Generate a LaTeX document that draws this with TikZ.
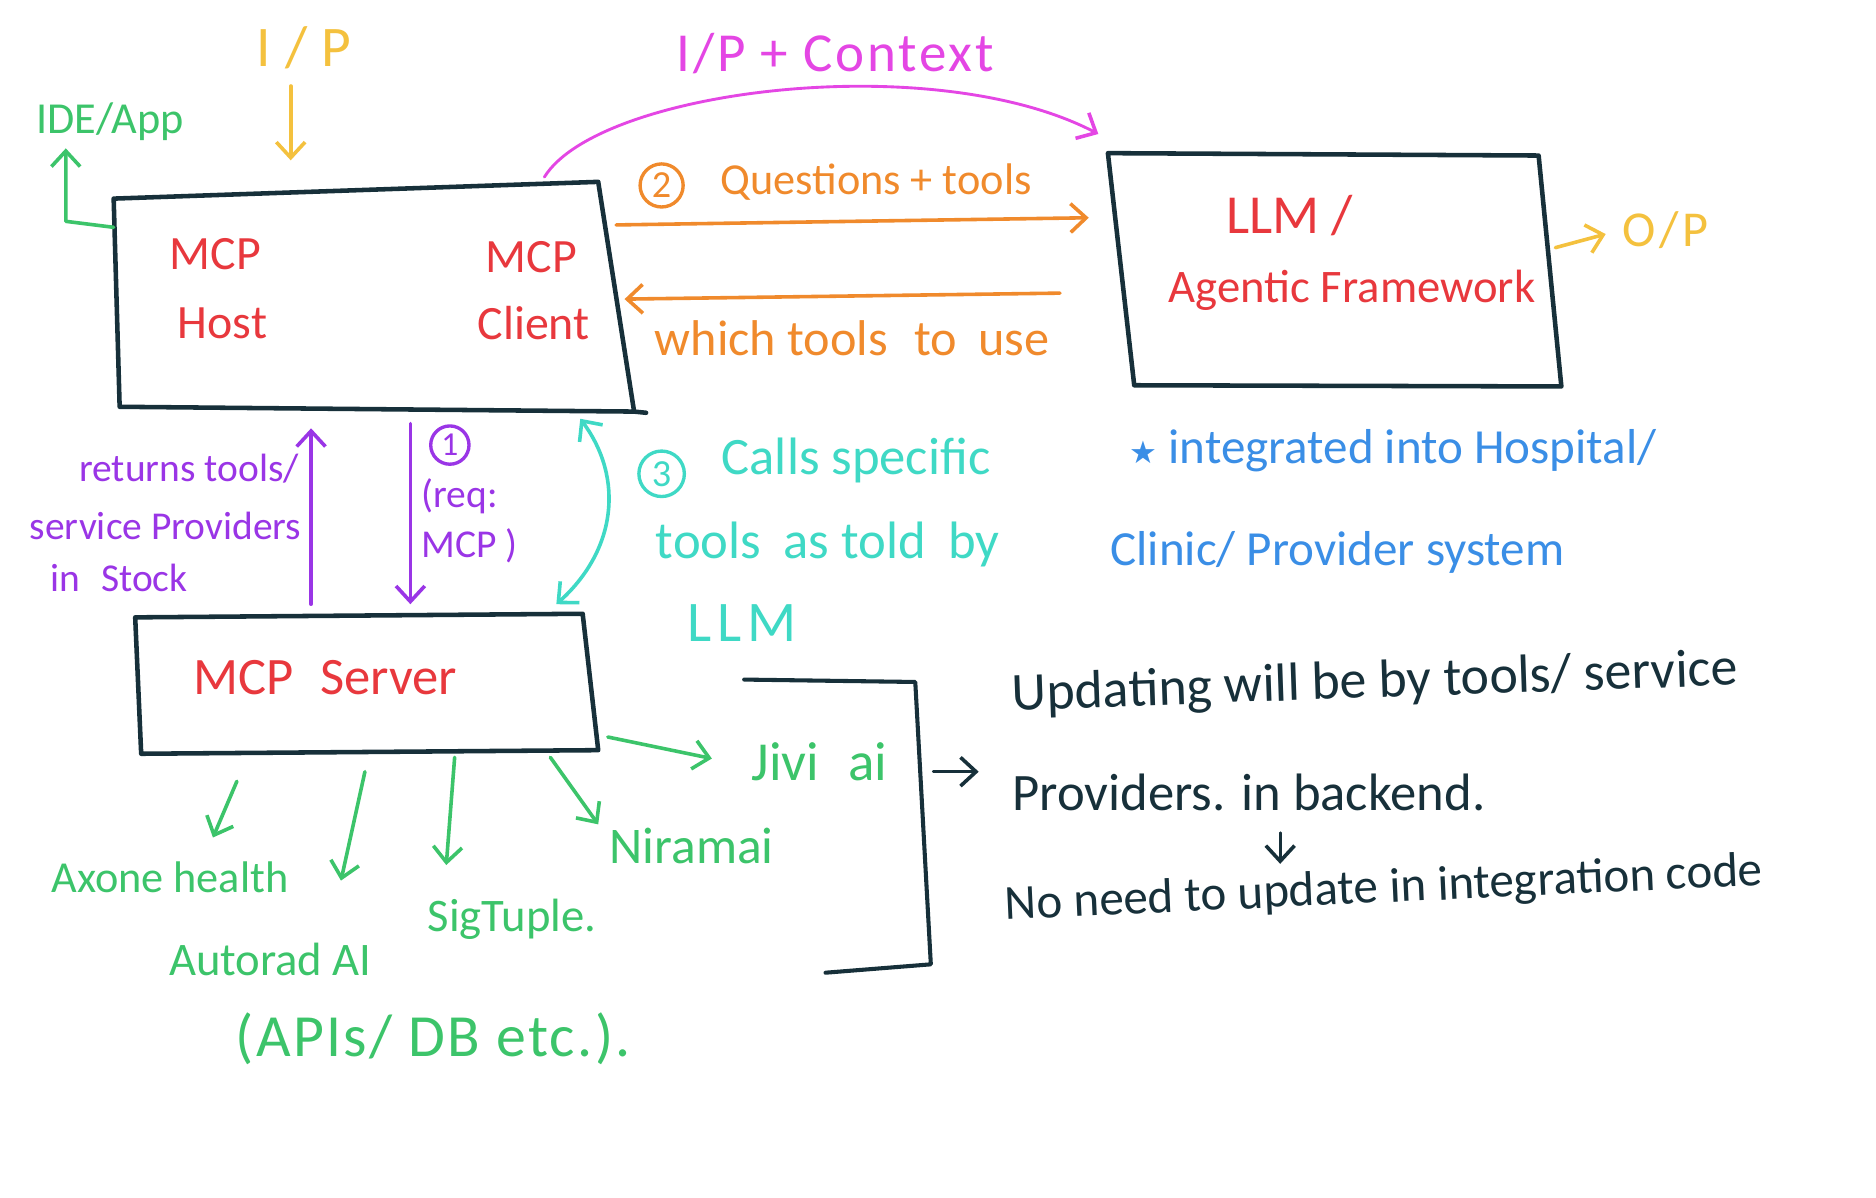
\documentclass[tikz,border=0pt]{standalone}
\usepackage{fontspec}
\setmainfont{Carlito}
\newfontfamily\symfont{DejaVu Sans}
\usetikzlibrary{arrows.meta}
\definecolor{ink}{HTML}{17303A}
\definecolor{hred}{HTML}{E8383D}
\definecolor{horange}{HTML}{F08A2C}
\definecolor{hyellow}{HTML}{F4C13E}
\definecolor{hmagenta}{HTML}{E446E4}
\definecolor{hgreen}{HTML}{3CC46A}
\definecolor{hpurple}{HTML}{9A35E6}
\definecolor{hcyan}{HTML}{3FD9C5}
\definecolor{hblue}{HTML}{3A8EE6}
\newcommand{\fsz}[1]{\fontsize{#1}{#1}\selectfont}
\newcommand{\spaced}[1]{\addfontfeatures{LetterSpace=#1}}
\begin{document}
\begin{tikzpicture}[x=1pt,y=-1pt,
  hand/.style={font=\fsz{40}, inner sep=0pt, anchor=center},
  small/.style={font=\fsz{33}, inner sep=0pt},
  box/.style={draw=ink, line width=3.8pt, line join=round, line cap=round},
  arr/.style={line width=3pt, line cap=round, line join=round, -{Straight Barb[length=13pt,width=24pt,line width=3pt]}},
  darr/.style={line width=3pt, line cap=round, {Straight Barb[length=13pt,width=24pt,line width=3pt]}-{Straight Barb[length=13pt,width=24pt,line width=3pt]}},
  num/.style={circle, draw, line width=2.8pt, inner sep=0pt, minimum size=36pt, font=\fsz{32}},
]
\useasboundingbox[fill=white] (0,0) rectangle (1568,1001);

% ---------- MCP host box ----------
\coordinate (h1) at (95,166);
\coordinate (h2) at (500,152);
\coordinate (h3) at (530,344);
\coordinate (h4) at (100,340);
\draw[box] (h1) -- (h2) -- (h3) -- (h4) -- cycle;
\draw[box] (h3) -- (540,345);
\node[hand, hred] (mcph) at (180,212) {MCP};
\node[hand, hred] (host) at (186,270) {Host};
\node[hand, hred] (mcpc) at (444,215) {MCP};
\node[hand, hred] (client) at (446,270) {Client};

% ---------- LLM box ----------
\coordinate (l1) at (926,128);
\coordinate (l2) at (1286,130);
\coordinate (l3) at (1305,323);
\coordinate (l4) at (948,322);
\draw[box] (l1) -- (l2) -- (l3) -- (l4) -- cycle;
\node[hand, hred, font=\fsz{46}] (llm) at (1078,180) {LLM /};
\node[hand, hred, font=\fsz{39}] (agentic) at (1130,243) {Agentic Framework};

% ---------- MCP server box ----------
\coordinate (s1) at (113,516);
\coordinate (s2) at (487,513);
\coordinate (s3) at (500,627);
\coordinate (s4) at (118,630);
\draw[box] (s1) -- (s2) -- (s3) -- (s4) -- cycle;
\node[hand, hred, font=\fsz{44}] (server) at (272,566) {MCP\hspace{0.5em}Server};

% ---------- top inputs ----------
\node[hand, hyellow, font=\fsz{48}\spaced{25}] (ip) at (254,40) {I/P};
\coordinate (hosttop) at (243,134);
\draw[arr, hyellow] (ip.south -| hosttop) ++(0,14) -- (hosttop);

\node[hand, hgreen, font=\fsz{37}] (ide) at (92,102) {IDE/App};
\coordinate (hostleft) at (95,190);
\draw[arr, hgreen] (hostleft) -- (55,185) -- (55,124);

\node[hand, hmagenta, font=\fsz{46}\spaced{5}] (ipctx) at (698,45) {I/P + Context};
\coordinate (hostcorner) at (455,148);
\coordinate (llmtop) at (918,112);
\draw[arr, hmagenta, line width=2.4pt] (hostcorner) .. controls (500,75) and (780,40) .. (llmtop);

% ---------- orange exchange ----------
\node[num, horange] (n2) at (553,155) {2};
\node[hand, horange, anchor=west, font=\fsz{37}] (quest) at (602,152) {Questions + tools};
\coordinate (hostright1) at (515,188);
\coordinate (llmleft1) at (910,182);
\draw[arr, horange] (hostright1) -- (llmleft1);
\coordinate (llmleft2) at (886,245);
\coordinate (hostright2) at (522,250);
\draw[arr, horange] (llmleft2) -- (hostright2);
\node[hand, horange, anchor=west, font=\fsz{42}] (which) at (547,283) {which tools\hspace{0.3em} to\hspace{0.2em} use};

% ---------- O/P ----------
\node[hand, hyellow, font=\fsz{42}\spaced{8}] (op) at (1392,192) {O/P};
\coordinate (llmright) at (1300,207);
\draw[arr, hyellow, shorten >=14pt] (llmright) -- (op.west);

% ---------- blue note ----------
\node[hand, hblue, anchor=west, font=\fsz{41}] (integ) at (944,377) {{\symfont\fsz{26}★} integrated into Hospital/};
\node[hand, hblue, anchor=west, font=\fsz{41}] (clinic) at (928,462) {Clinic/ Provider system};

% ---------- purple arrows ----------
\coordinate (srvtop1) at (260,505);
\coordinate (hostbot1) at (260,358);
\draw[arr, hpurple] (srvtop1) -- (hostbot1);
\node[small, hpurple, anchor=east] (ret1) at (250,392) {returns tools/};
\node[small, hpurple, anchor=east] (ret2) at (252,440) {service Providers};
\node[small, hpurple, anchor=west] (ret3) at (42,483) {in\hspace{0.3em} Stock};

\coordinate (hostbot2) at (343,354);
\coordinate (srvtop2) at (343,505);
\draw[arr, hpurple] (hostbot2) -- (srvtop2);
\node[num, hpurple, minimum size=32pt, font=\fsz{28}] (n1) at (376,372) {1};
\node[small, hpurple, anchor=west] (req) at (352,415) {(req:};
\node[small, hpurple, anchor=west] (reqmcp) at (352,456) {MCP )};

% ---------- cyan call ----------
\coordinate (hostbot3) at (485,350);
\coordinate (srvtop3) at (465,505);
\draw[darr, hcyan] (hostbot3) .. controls (522,400) and (515,460) .. (srvtop3);
\node[num, hcyan, minimum size=38pt] (n3) at (553,396) {3};
\node[hand, hcyan, anchor=west, font=\fsz{44}] (calls) at (603,385) {Calls specific};
\node[hand, hcyan, anchor=west, font=\fsz{44}] (tools) at (548,455) {tools\hspace{0.2em} as told\hspace{0.2em} by};
\node[hand, hcyan, font=\fsz{48}\spaced{10}] (llm2) at (620,521) {LLM};

% ---------- green providers ----------
\node[hand, hgreen, font=\fsz{37}] (axone) at (142,733) {Axone health};
\node[hand, hgreen, font=\fsz{39}] (autorad) at (226,802) {Autorad AI};
\node[hand, hgreen, font=\fsz{39}] (sigtuple) at (428,768) {SigTuple.};
\node[hand, hgreen, font=\fsz{43}] (niramai) at (578,707) {Niramai};
\node[hand, hgreen, font=\fsz{46}] (jivi) at (685,637) {Jivi\hspace{0.3em} ai};
\node[hand, hgreen, font=\fsz{50}\spaced{4}] (apis) at (362,868) {(APIs/ DB etc.).};
\coordinate (sb1) at (198,653);
\coordinate (sb2) at (305,645);
\coordinate (sb3) at (380,633);
\coordinate (sb4) at (460,633);
\coordinate (sb5) at (508,616);
\draw[arr, hgreen] (sb1) -- (178,700);
\draw[arr, hgreen] (sb2) -- (285,736);
\draw[arr, hgreen] (sb3) -- (373,723);
\draw[arr, hgreen] (sb4) -- (500,689);
\draw[arr, hgreen] (sb5) -- (595,634);

% ---------- bracket and notes ----------
\draw[box, line width=3.4pt] (622,568) -- (765,570) -- (778,806) -- (690,813);
\coordinate (brk) at (780,645);
\coordinate (brkend) at (818,645);
\draw[arr, ink, line width=2.4pt] (brk) -- (brkend);
\node[hand, ink, anchor=west, font=\fsz{45}, rotate=2] (upd1) at (846,582) {Updating will be by tools/ service};
\node[hand, ink, anchor=west, font=\fsz{44}] (upd2) at (846,662) {Providers. in backend.};
\coordinate (dn1) at (1070,696);
\coordinate (dn2) at (1070,722);
\draw[arr, ink, line width=2.4pt] (dn1) -- (dn2);
\node[hand, ink, anchor=west, font=\fsz{41}, rotate=2.6] (upd3) at (840,758) {No need to update in integration code};
\end{tikzpicture}
\end{document}
